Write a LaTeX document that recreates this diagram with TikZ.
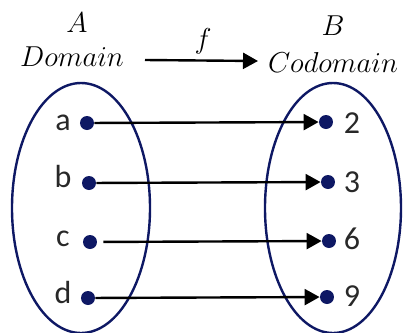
\documentclass[tikz,border=0pt]{standalone}
\usepackage{fontspec}
\newfontfamily\calibri{Carlito}
\usetikzlibrary{arrows.meta}
\definecolor{blunotte}{RGB}{14,24,100}
\definecolor{grigioscuro}{RGB}{40,40,40}

\begin{document}
\begin{tikzpicture}[x=0.5pt, y=-0.5pt, >={Triangle[length=7.5pt, width=8pt]},
    punto/.style={circle, fill=blunotte, inner sep=0pt, minimum size=7pt},
    etichetta/.style={anchor=base, font=\calibri\fontsize{16}{18}\selectfont, text=grigioscuro},
    titolo/.style={anchor=base, font=\fontsize{15}{18}\selectfont},
    freccia/.style={line width=1.2pt, ->}]

    \useasboundingbox (0,0) rectangle (403,333);

    % --- INSIEMI (ellissi blu) ---
    \draw[blunotte, line width=1.2pt] (81,208) ellipse [x radius=34.5pt, y radius=62.5pt];
    \draw[blunotte, line width=1.2pt] (333,208) ellipse [x radius=34pt, y radius=62.5pt];

    % --- TITOLI ---
    \node[titolo] (A)   at (77,32)  {$A$};
    \node[titolo] (dom) at (72,66)  {$Domain$};
    \node[titolo] (B)   at (333,35) {$B$};
    \node[titolo] (cod) at (333,72) {$Codomain$};

    % Freccia della funzione
    \coordinate (fs) at (145,60);
    \coordinate (fe) at (258,61);
    \draw[freccia] (fs) -- (fe);
    \node[titolo] (f) at (203,48) {$f$};

    % --- PUNTI ---
    % Dominio
    \node[punto] (a) at (87,123) {};
    \node[punto] (b) at (89,183) {};
    \node[punto] (c) at (90,242) {};
    \node[punto] (d) at (88,298) {};

    % Codominio
    \node[punto] (n2) at (326,122) {};
    \node[punto] (n3) at (328,182) {};
    \node[punto] (n6) at (329,241) {};
    \node[punto] (n9) at (327,297) {};

    % --- ETICHETTE DEI PUNTI ---
    \node[etichetta] (la) at (63,130) {a};
    \node[etichetta] (lb) at (63,187) {b};
    \node[etichetta] (lc) at (63,246) {c};
    \node[etichetta] (ld) at (63,303) {d};

    \node[etichetta] (l2) at (352,133) {2};
    \node[etichetta] (l3) at (352,192) {3};
    \node[etichetta] (l6) at (352,249) {6};
    \node[etichetta] (l9) at (352,306) {9};

    % --- FRECCE (associazioni) ---
    \draw[freccia] (a) -- (n2);
    \draw[freccia] (b) -- (n3);
    \draw[freccia, shorten <=3pt] (c) -- (n6);
    \draw[freccia] (d) -- (n9);

\end{tikzpicture}
\end{document}
